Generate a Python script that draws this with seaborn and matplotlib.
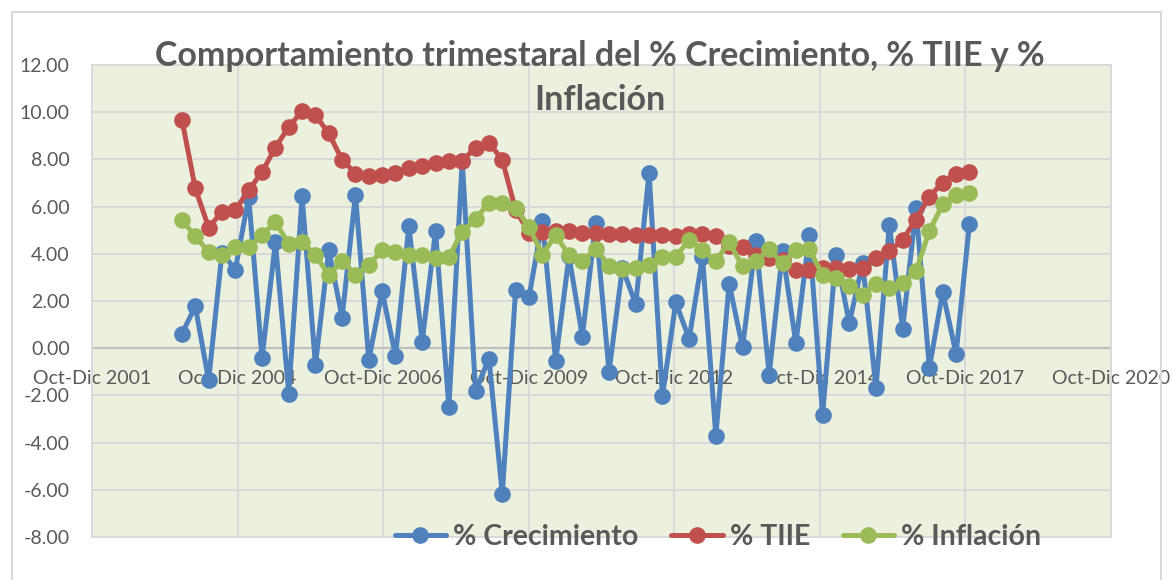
import numpy as np
import pandas as pd
import matplotlib
matplotlib.use("Agg")
import matplotlib.pyplot as plt
from matplotlib.lines import Line2D
from matplotlib.patches import Rectangle
import seaborn as sns

# Quarterly series (percent)
crecimiento = [0.62, 1.77, -1.36, 4.05, 3.33, 6.41, -0.42, 4.49, -1.92, 6.44,
               -0.71, 4.15, 1.30, 6.51, -0.51, 2.42, -0.34, 5.17, 0.28, 4.96,
               -2.51, 7.95, -1.82, -0.44, -6.19, 2.47, 2.15, 5.40, -0.55, 3.90,
               0.49, 5.31, -1.00, 3.40, 1.86, 7.44, -2.03, 1.94, 0.40, 3.87,
               -3.70, 2.74, 0.03, 4.53, -1.12, 4.10, 0.20, 4.79, -2.84, 3.97,
               1.06, 3.59, -1.68, 5.21, 0.83, 5.92, -0.83, 2.39, -0.24, 5.25]
tiie = [9.68, 6.77, 5.11, 5.78, 5.86, 6.69, 7.47, 8.50, 9.38, 10.04,
        9.87, 9.10, 7.99, 7.40, 7.29, 7.33, 7.43, 7.64, 7.71, 7.85,
        7.92, 7.94, 8.50, 8.70, 7.99, 5.85, 4.90, 4.93, 4.95, 4.96,
        4.89, 4.89, 4.86, 4.82, 4.80, 4.79, 4.78, 4.77, 4.82, 4.84,
        4.74, 4.32, 4.27, 3.95, 3.82, 3.75, 3.32, 3.31, 3.40, 3.41,
        3.37, 3.40, 3.82, 4.10, 4.60, 5.45, 6.42, 7.02, 7.38, 7.45]
inflacion = [5.42, 4.75, 4.07, 3.97, 4.29, 4.27, 4.79, 5.35, 4.42, 4.51,
             3.95, 3.09, 3.70, 3.12, 3.52, 4.15, 4.08, 3.97, 3.97, 3.81,
             3.87, 4.93, 5.47, 6.17, 6.17, 5.96, 5.14, 3.97, 4.79, 3.94,
             3.69, 4.22, 3.49, 3.35, 3.40, 3.52, 3.87, 3.87, 4.60, 4.16,
             3.70, 4.50, 3.47, 3.69, 4.19, 3.61, 4.17, 4.20, 3.10, 2.97,
             2.62, 2.27, 2.70, 2.56, 2.78, 3.26, 4.97, 6.09, 6.48, 6.58]

series_names = ["% Crecimiento", "% TIIE", "% Inflación"]
series_colors = ["#4F81BD", "#C0504D", "#9BBB59"]
x_tick_labels = ["Oct-Dic 2001", "Oct-Dic 2004", "Oct-Dic 2006", "Oct-Dic 2009",
                 "Oct-Dic 2012", "Oct-Dic 2014", "Oct-Dic 2017", "Oct-Dic 2020"]

# Axis measured in quarters; the series begins some quarters after the first tick
axis_span = 76.35
first_quarter = 6.74
quarter_pos = first_quarter + np.arange(len(crecimiento))

df = pd.concat([
    pd.DataFrame({"pos": quarter_pos, "valor": vals, "serie": name})
    for name, vals in zip(series_names, [crecimiento, tiie, inflacion])
], ignore_index=True)

sns.set_style("white")
plt.rcParams["font.family"] = ["Lato", "DejaVu Sans"]
text_color = "#595959"
grid_color = "#D9D9D9"

W, H = 1173, 580
fig = plt.figure(figsize=(W / 100, H / 100), dpi=100)
ax = fig.add_axes([92 / W, 1 - 537 / H, (1111 - 92) / W, (537 - 65) / H])
ax.set_facecolor("#EBF1DE")

palette = dict(zip(series_names, series_colors))
sns.lineplot(data=df, x="pos", y="valor", hue="serie", hue_order=series_names,
             palette=palette, marker="o", markersize=12, linewidth=3.6,
             markeredgewidth=0, sort=False, legend=False, ax=ax, zorder=3)

ax.set_xlim(0, axis_span)
ax.set_ylim(-8, 12)
ax.set_xticks(np.linspace(0, axis_span, len(x_tick_labels)))
ax.set_xticklabels(x_tick_labels)
ax.set_yticks(np.arange(-8, 13, 2))
ax.set_yticklabels([f"{v:.2f}" for v in np.arange(-8, 13, 2)])
ax.set_xlabel("")
ax.set_ylabel("")

ax.grid(True, color=grid_color, linewidth=1.4, zorder=0)
ax.set_axisbelow(True)
for side in ("left", "right", "top"):
    ax.spines[side].set_color(grid_color)
    ax.spines[side].set_linewidth(1.4)
ax.spines["bottom"].set_position(("data", 0))
ax.spines["bottom"].set_color("#BFBFBF")
ax.spines["bottom"].set_linewidth(1.6)
ax.spines["bottom"].set_zorder(1)
ax.axhline(-8, color=grid_color, linewidth=1.4, clip_on=False, zorder=0)

ax.tick_params(axis="x", length=0, pad=16, labelsize=14, labelcolor=text_color)
ax.tick_params(axis="y", length=0, pad=16, labelsize=14, labelcolor=text_color)

# chart area border
fig.patches.append(Rectangle((12 / W, -0.05), (1161 - 12) / W, 1.05 - 12 / H,
                             transform=fig.transFigure, fill=False,
                             edgecolor=grid_color, linewidth=1.5))

fig.text(600 / W, 1 - 78 / H,
         "Comportamiento trimestaral del % Crecimiento, % TIIE y %\nInflación",
         ha="center", va="center", fontsize=24.5, fontweight="bold",
         color=text_color, linespacing=1.5)

handles = [Line2D([], [], color=c, linewidth=3.6, marker="o", markersize=12,
                  markeredgewidth=0) for c in series_colors]
fig.legend(handles, series_names, loc="center", bbox_to_anchor=(718 / W, 1 - 537 / H),
           ncol=3, frameon=False, prop={"size": 20.5, "weight": "bold"},
           labelcolor=text_color, handlelength=1.8, columnspacing=1.15,
           handletextpad=0.25)

fig.savefig("out.png", dpi=100)
